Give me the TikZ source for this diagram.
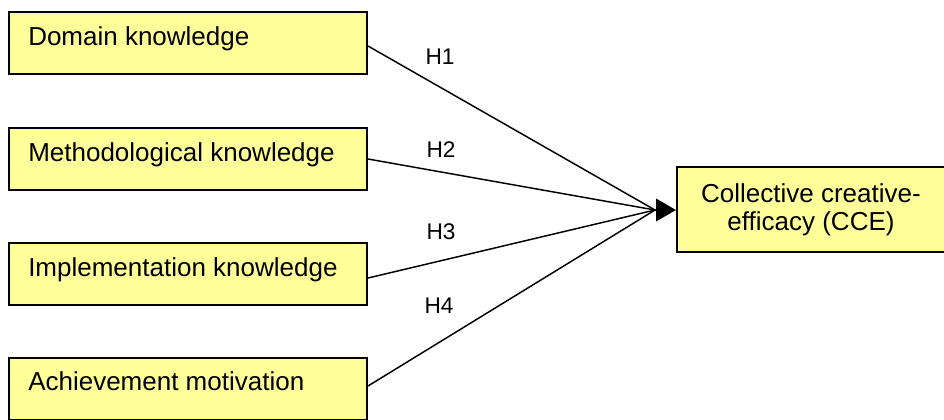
\documentclass[tikz,border=0pt]{standalone}
\usepackage{fontspec}
\setmainfont{Liberation Sans}
\usetikzlibrary{calc,arrows.meta}
\definecolor{boxfill}{HTML}{FFFF99}
\begin{document}
\begin{tikzpicture}[x=0.75pt,y=-0.75pt,
  factor/.style={draw=black,fill=boxfill,line width=1.5pt,rectangle,inner sep=0pt,
    minimum width=268.5pt,minimum height=46.5pt,anchor=north west},
  outcome/.style={draw=black,fill=boxfill,line width=1.5pt,rectangle,inner sep=0pt,
    minimum width=202.5pt,minimum height=63.75pt,anchor=north west},
  lbl/.style={anchor=base west,inner sep=0pt,font=\fontsize{19.5}{21}\selectfont},
  hyp/.style={inner sep=0pt,font=\fontsize{17}{20}\selectfont},
  link/.style={line width=1.1pt}]
\useasboundingbox (0,0) rectangle (944,419);

% antecedent boxes
\node[factor] (b1) at (8,11) {};
\node[factor] (b2) at (8,127) {};
\node[factor] (b3) at (8,242) {};
\node[factor] (b4) at (8,357) {};
\node[lbl] (t1) at ($(b1.north west)+(20,34)$) {Domain knowledge};
\node[lbl] (t2) at ($(b2.north west)+(20,34)$) {Methodological knowledge};
\node[lbl] (t3) at ($(b3.north west)+(20,34)$) {Implementation knowledge};
\node[lbl] (t4) at ($(b4.north west)+(20,33)$) {Achievement motivation};

% outcome box
\node[outcome] (cce) at (676,166) {};
\node[lbl,anchor=base,align=center] (ct) at (811,230) {Collective creative-\\efficacy (CCE)};

% paths
\coordinate (hub) at (655,210);
\draw[link] ($(b1.east)+(0,3)$) -- (hub);
\draw[link] (b2.east) -- (hub);
\draw[link] ($(b3.east)+(0,4)$) -- (hub);
\draw[link] ($(b4.east)+(0,-3)$) -- (hub);
\draw[link,-{Triangle[length=15pt,width=17pt]}] (hub) -- (cce.west |- hub);

% hypothesis labels
\node[hyp] (h1) at (440,57) {H1};
\node[hyp] (h2) at (441,150) {H2};
\node[hyp] (h3) at (441,232) {H3};
\node[hyp] (h4) at (439,306) {H4};
\end{tikzpicture}
\end{document}
